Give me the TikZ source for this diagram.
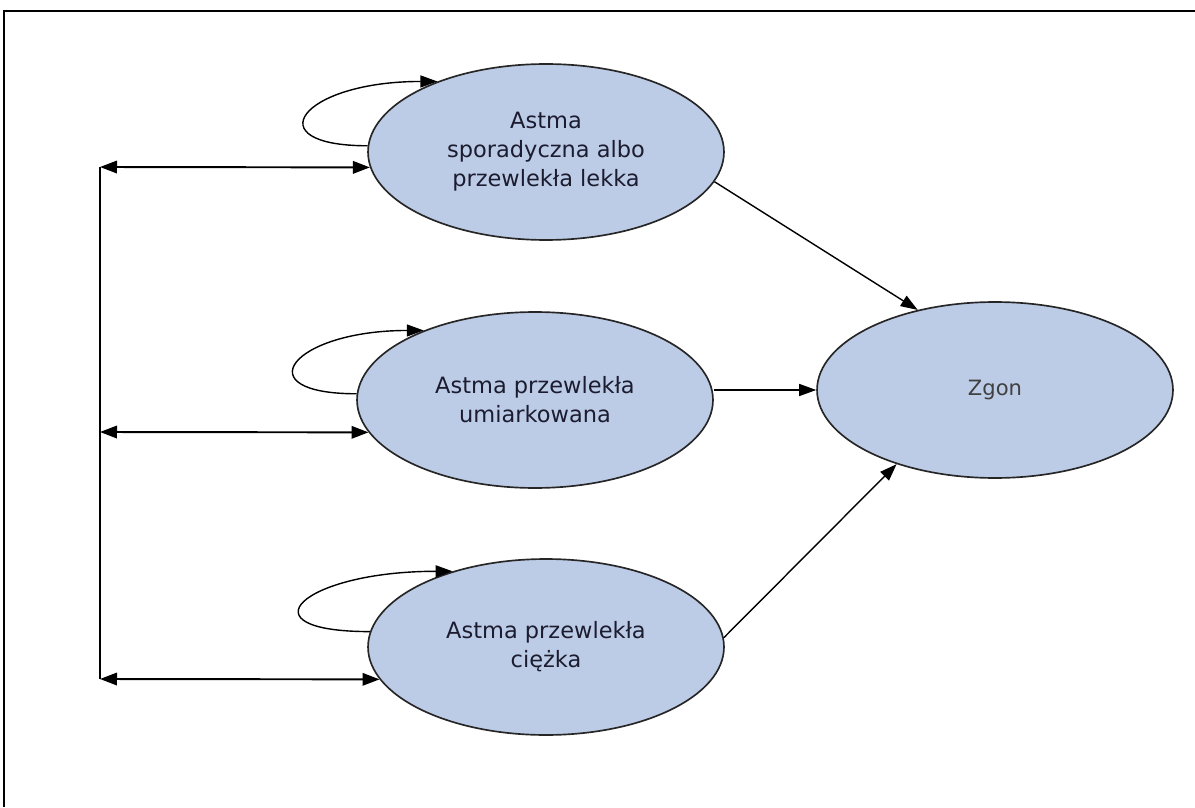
\documentclass[tikz,border=0pt]{standalone}
\usepackage{fontspec}
\setmainfont{DejaVu Sans}
\usepackage{xcolor}
\usepackage{tikz}
\usetikzlibrary{arrows.meta,positioning,calc,shapes}

\definecolor{stanfill}{RGB}{189,204,230}
\definecolor{stantext}{RGB}{28,28,48}

\begin{document}
\begin{tikzpicture}[x=0.02cm, y=-0.02cm,
    stan/.style={ellipse, draw=black!85, line width=0.95pt, fill=stanfill,
        minimum width=7.12cm, minimum height=3.52cm, inner sep=0pt,
        align=center, text=stantext, font=\fontsize{12.8}{16.5}\selectfont},
    strzalka/.style={-{Triangle[length=0.34cm,width=0.24cm]}, line width=0.8pt},
    dwustronna/.style={{Triangle[length=0.34cm,width=0.25cm]}-{Triangle[length=0.34cm,width=0.25cm]}, line width=1.1pt}]
    \useasboundingbox (0,0) rectangle (1195,807);

    % Frame (top and left edge only)
    \draw[line width=1.3pt] (4,807) -- (4,11) -- (1195,11);

    % States
    \node[stan] (lekka) at (546,152) {Astma\\sporadyczna albo\\przewlekła lekka};
    \node[stan] (umiark) at (535,400) {Astma przewlekła\\umiarkowana};
    \node[stan] (ciezka) at (546,647) {Astma przewlekła\\ciężka};
    \node[stan, text=black!75, font=\fontsize{12}{15}\selectfont] (zgon) at (995,390) {Zgon};

    % Self loops
    \draw[strzalka] (lekka.178) .. controls +(-113,0) and +(-137,0) .. (lekka.147);
    \draw[strzalka] (umiark.178) .. controls +(-113,0) and +(-132,0) .. (umiark.148);
    \draw[strzalka] (ciezka.175) .. controls +(-130,0) and +(-151,0) .. (ciezka.141);

    % Left bus
    \coordinate (szyna1) at (100,167);
    \coordinate (szyna2) at (100,432);
    \coordinate (szyna3) at (100,679);
    \draw[line width=1.1pt] (szyna1) -- (szyna3);
    \draw[dwustronna] (szyna1) -- (lekka.185);
    \draw[dwustronna] (szyna2) -- (umiark.191);
    \draw[dwustronna] (szyna3) -- (ciezka.191);

    % Transitions to death
    \draw[strzalka] (lekka.-10) -- (zgon.134);
    \draw[strzalka] (zgon.west -| umiark.east) -- (zgon.west);
    \draw[strzalka] (ciezka.3) -- (zgon.-143);
\end{tikzpicture}
\end{document}
